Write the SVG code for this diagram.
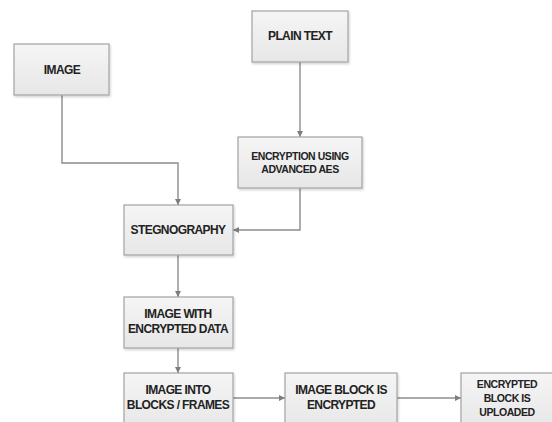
<svg xmlns="http://www.w3.org/2000/svg" width="552" height="422" viewBox="0 0 552 422">
  <defs>
    <linearGradient id="boxFill" x1="0" y1="0" x2="0" y2="1">
      <stop offset="0" stop-color="#f5f5f5"/>
      <stop offset="1" stop-color="#e7e7e7"/>
    </linearGradient>
    <filter id="shadow" x="-10%" y="-10%" width="130%" height="130%">
      <feDropShadow dx="1" dy="1.5" stdDeviation="1" flood-color="#000" flood-opacity="0.18"/>
    </filter>
    <marker id="arrow" viewBox="0 0 10 10" refX="10" refY="5" markerWidth="6" markerHeight="6" orient="auto" markerUnits="userSpaceOnUse">
      <path d="M0,0 L10,5 L0,10 z" fill="#7d7d7d"/>
    </marker>
  </defs>
  <style>
    .box { fill: url(#boxFill); stroke: #a3a3a3; stroke-width: 1.2; filter: url(#shadow); }
    .lbl { font-family: "Liberation Sans", Arial, sans-serif; font-weight: bold; font-size: 12px; fill: #222; text-anchor: middle; letter-spacing: -0.6px; }
    .sm { font-size: 10.5px; letter-spacing: -0.45px; }
    .link { fill: none; stroke: #8c8c8c; stroke-width: 1.4; marker-end: url(#arrow); }
  </style>
  <rect width="552" height="422" fill="#ffffff"/>

  <g id="connectors">
    <path class="link" d="M62,95 V163 H178 V205"/>
    <path class="link" d="M300,62 V137"/>
    <path class="link" d="M300,188 V230 H233"/>
    <path class="link" d="M178,255 V297"/>
    <path class="link" d="M178,348 V373"/>
    <path class="link" d="M233,398 H285"/>
    <path class="link" d="M397,398 H461"/>
  </g>

  <g id="image">
    <rect class="box" x="14" y="44" width="95" height="51"/>
    <text class="lbl" x="62" y="74">IMAGE</text>
  </g>

  <g id="plain-text">
    <rect class="box" x="252" y="11" width="96" height="51"/>
    <text class="lbl" x="300" y="40">PLAIN TEXT</text>
  </g>

  <g id="encryption">
    <rect class="box" x="238" y="137" width="124" height="51"/>
    <text class="lbl sm" x="300" y="160">ENCRYPTION USING</text>
    <text class="lbl sm" x="300" y="173">ADVANCED AES</text>
  </g>

  <g id="stegnography">
    <rect class="box" x="124" y="205" width="109" height="50"/>
    <text class="lbl" x="178" y="234">STEGNOGRAPHY</text>
  </g>

  <g id="image-with-data">
    <rect class="box" x="124" y="297" width="109" height="51"/>
    <text class="lbl" x="178" y="318">IMAGE WITH</text>
    <text class="lbl" x="178" y="333">ENCRYPTED DATA</text>
  </g>

  <g id="image-into-blocks">
    <rect class="box" x="124" y="373" width="109" height="56"/>
    <text class="lbl" x="178" y="394">IMAGE INTO</text>
    <text class="lbl" x="178" y="409">BLOCKS / FRAMES</text>
  </g>

  <g id="block-encrypted">
    <rect class="box" x="285" y="373" width="112" height="56"/>
    <text class="lbl" x="341" y="394">IMAGE BLOCK IS</text>
    <text class="lbl" x="341" y="409">ENCRYPTED</text>
  </g>

  <g id="block-uploaded">
    <rect class="box" x="461" y="373" width="96" height="56"/>
    <text class="lbl sm" x="507" y="388">ENCRYPTED</text>
    <text class="lbl sm" x="507" y="402">BLOCK IS</text>
    <text class="lbl sm" x="507" y="416">UPLOADED</text>
  </g>
</svg>
